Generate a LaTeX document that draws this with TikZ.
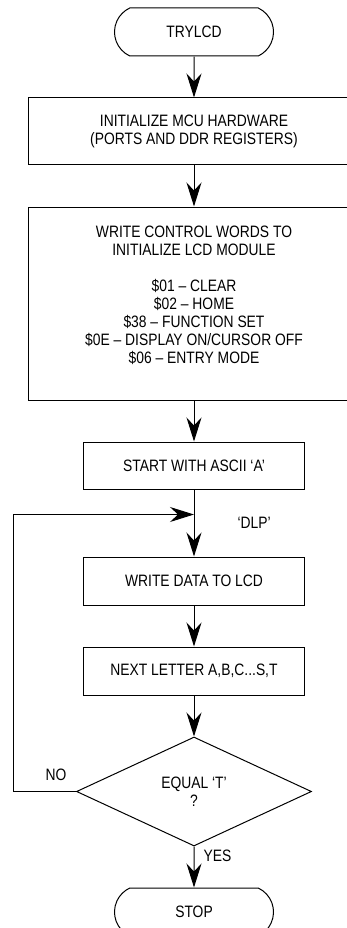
\documentclass[tikz,border=0pt]{standalone}
\usepackage{fontspec}
\setmainfont{Liberation Sans}[FakeStretch=0.84]
\usepackage{tikz}
\usetikzlibrary{shapes.geometric,shapes.misc,arrows.meta,positioning,calc}
\definecolor{lcdInk}{HTML}{000000}

\begin{document}
\begin{tikzpicture}[
  font=\fontsize{16.5pt}{18pt}\selectfont,
  node distance=41pt,
  every node/.style={align=center,text=lcdInk},
  termbox/.style ={rounded rectangle,rounded rectangle arc length=130,draw=lcdInk,line width=1pt,minimum width=159pt,minimum height=48pt,inner sep=0pt},
  procbox/.style ={rectangle,draw=lcdInk,line width=1pt,minimum width=221pt,minimum height=48pt,inner sep=0pt},
  widebox/.style ={procbox,minimum width=332pt},
  decbox/.style  ={diamond,draw=lcdInk,line width=1pt,aspect=2.16,minimum width=235pt,minimum height=109pt,inner sep=0pt},
  flowarr/.style ={-{Stealth[length=24pt,width=15pt,inset=8pt]},draw=lcdInk,line width=1pt}
]
\useasboundingbox (0,0) rectangle (347pt,-928pt);

% main column
\node[termbox] (trylcd) at (194pt,-32pt) {TRYLCD};
\node[widebox,below=of trylcd,minimum height=67pt] (init) {INITIALIZE MCU HARDWARE\\(PORTS AND DDR REGISTERS)};
\node[widebox,below=of init,minimum height=193pt] (ctrl) {WRITE CONTROL WORDS TO\\INITIALIZE LCD MODULE\\ ~\\\$01 -- CLEAR\\\$02 -- HOME\\\$38 -- FUNCTION SET\\\$0E -- DISPLAY ON/CURSOR OFF\\\$06 -- ENTRY MODE\\ ~};
\node[procbox,below=of ctrl,minimum height=47pt] (start) {START WITH ASCII `A'};
\node[procbox,below=67pt of start] (wdata) {WRITE DATA TO LCD};
\node[procbox,below=of wdata] (next) {NEXT LETTER A,B,C...S,T};
\node[decbox,below=of next] (equal) {\raisebox{-5pt}{\shortstack{EQUAL `T'\\?}}};
\node[termbox,below=of equal] (stop) {STOP};

% loop entry point
\coordinate (dlp) at ($(start.south)+(0,-25pt)$);
\node[right=40pt of dlp,yshift=-8pt] (dlplbl) {`DLP'};

% arrows down the column
\draw[flowarr] (trylcd) -- (init);
\draw[flowarr] (init)   -- (ctrl);
\draw[flowarr] (ctrl)   -- (start);
\draw[flowarr] (start)  -- (wdata);
\draw[flowarr] (wdata)  -- (next);
\draw[flowarr] (next)   -- (equal);
\draw[flowarr] (equal)  -- (stop);

% NO branch back to the loop
\draw[flowarr] (equal.west) -- ++(-63pt,0) |- (dlp);
\node[above left=7pt and 6pt of equal.west] (nolbl) {NO};
\node[below right=0pt and 6pt of equal.south] (yeslbl) {YES};
\end{tikzpicture}
\end{document}
